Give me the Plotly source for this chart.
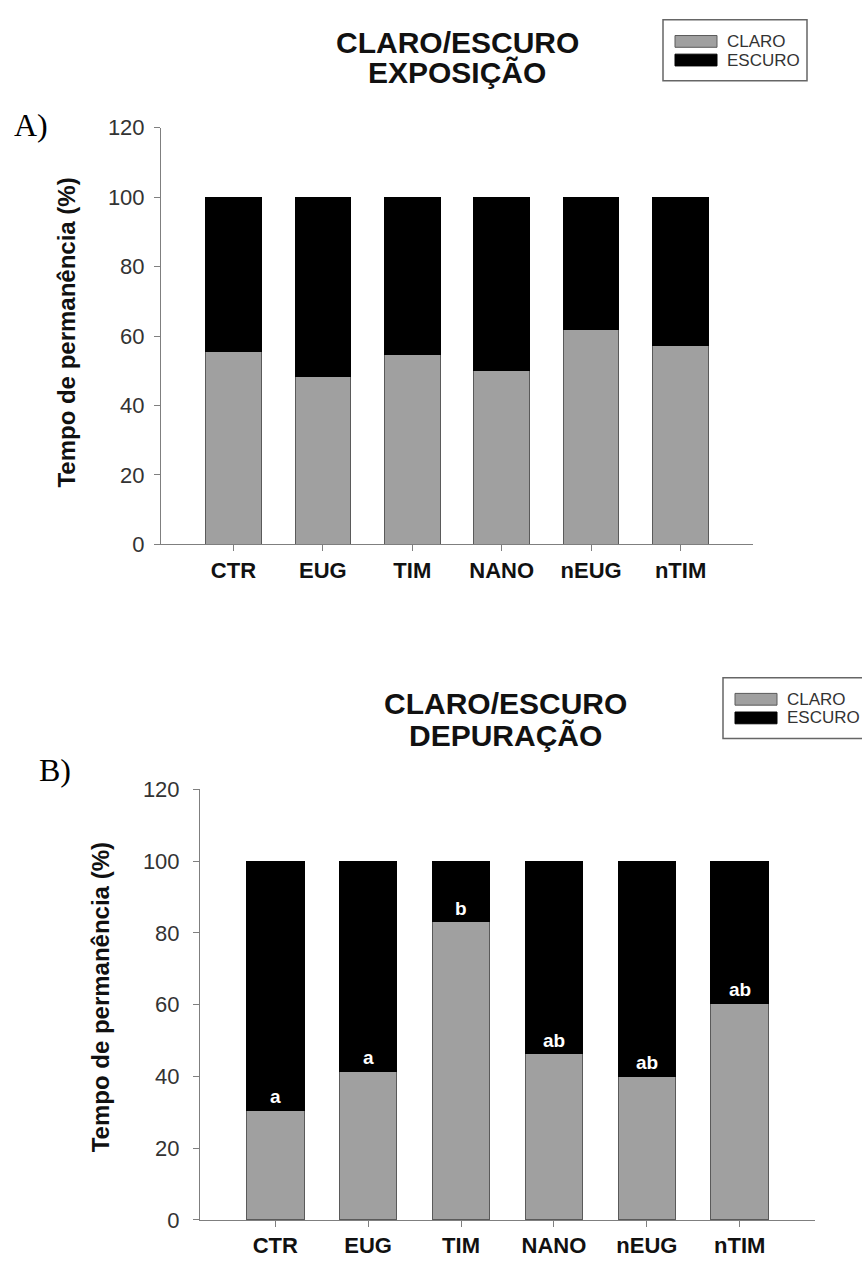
import plotly.graph_objects as go

# ---------------- data ----------------
categories = ["CTR", "EUG", "TIM", "NANO", "nEUG", "nTIM"]
series_names = ["CLARO", "ESCURO"]

claro_exposicao = [55.6, 48.2, 54.6, 50.2, 61.8, 57.3]
escuro_exposicao = [44.4, 51.8, 45.4, 49.8, 38.2, 42.7]

claro_depuracao = [30.6, 41.4, 83.1, 46.3, 40.0, 60.4]
escuro_depuracao = [69.4, 58.6, 16.9, 53.7, 60.0, 39.6]
letras_depuracao = ["a", "a", "b", "ab", "ab", "ab"]

titulo_a = ["CLARO/ESCURO", "EXPOSIÇÃO"]
titulo_b = ["CLARO/ESCURO", "DEPURAÇÃO"]
y_title = "Tempo de permanência (%)"
y_ticks = [0, 20, 40, 60, 80, 100, 120]

# ---------------- style ----------------
W, H = 862, 1277
GRAY = "#a0a0a0"
GRAY_LINE = "#5a5a5a"
AX = "#7f7f7f"
FONT = "Liberation Sans, Arial, sans-serif"


def px(x):
    return x / W


def py(y):
    return 1 - y / H


fig = go.Figure()

for cl, es, xa, ya in [(claro_exposicao, escuro_exposicao, "x", "y"),
                       (claro_depuracao, escuro_depuracao, "x2", "y2")]:
    fig.add_bar(x=categories, y=cl, name=series_names[0], xaxis=xa, yaxis=ya,
                marker=dict(color=GRAY, line=dict(color=GRAY_LINE, width=1)),
                showlegend=False)
    fig.add_bar(x=categories, y=es, name=series_names[1], xaxis=xa, yaxis=ya,
                marker=dict(color="#000000", line=dict(color="#000000", width=1)),
                showlegend=False)

xcommon = dict(type="category", range=[-0.81, 5.81], showline=True, linecolor=AX,
               linewidth=1, ticks="outside", ticklen=6, tickcolor=AX, showgrid=False,
               zeroline=False, tickfont=dict(family=FONT, size=22, color="#111", weight="bold"))
ycommon = dict(range=[0, 120], tickvals=y_ticks, showline=True, linecolor=AX, linewidth=1,
               ticks="outside", ticklen=6, tickcolor=AX, showgrid=False, zeroline=False,
               tickfont=dict(family=FONT, size=22, color="#333"))

fig.update_layout(
    width=W, height=H, margin=dict(l=0, r=0, t=0, b=0),
    paper_bgcolor="white", plot_bgcolor="white",
    barmode="stack", bargap=0.38,
    xaxis=dict(domain=[px(161), px(753)], anchor="y", **xcommon),
    yaxis=dict(domain=[py(543), py(118)], anchor="x", ticklabelstandoff=5, **ycommon),
    xaxis2=dict(domain=[px(200), px(815)], anchor="y2", **xcommon),
    yaxis2=dict(domain=[py(1232), py(793)], anchor="x2", ticklabelstandoff=9, **ycommon),
)

ann = []
# titles
for t, cx, y1, y2 in [(titulo_a, 457, 31, 62), (titulo_b, 505, 705, 738)]:
    for txt, yy in [(t[0], y1), (t[1], y2)]:
        ann.append(dict(text=txt, x=px(cx), y=py(yy), xref="paper", yref="paper",
                        showarrow=False, xanchor="center", yanchor="middle",
                        font=dict(family=FONT, size=30, color="#111", weight="bold")))
# panel letters
for txt, x, y in [("A)", 12, 115), ("B)", 37, 773)]:
    ann.append(dict(text=txt, x=px(x), y=py(y), xref="paper", yref="paper",
                    showarrow=False, xanchor="left", yanchor="middle",
                    font=dict(family="Liberation Serif, Times New Roman, serif", size=32, color="#000")))
# y-axis titles
for x, y in [(67, 327), (100, 1005)]:
    ann.append(dict(text=y_title, x=px(x), y=py(y), xref="paper", yref="paper",
                    showarrow=False, textangle=-90, xanchor="center", yanchor="middle",
                    font=dict(family=FONT, size=24, color="#111", weight="bold")))
# significance letters
for c, v, l in zip(categories, claro_depuracao, letras_depuracao):
    ann.append(dict(text=l, x=c, y=v, xref="x2", yref="y2", showarrow=False,
                    xanchor="center", yanchor="bottom", yshift=1,
                    font=dict(family=FONT, size=19, color="white", weight="bold")))

shapes = []
# manual legends (box, swatches, text)
for bx0, bx1, by0 in [(663, 807, 8), (723, 875, 679)]:
    shapes.append(dict(type="rect", xref="paper", yref="paper", x0=px(bx0), x1=px(bx1),
                       y0=py(by0), y1=py(by0 + 62), line=dict(color="#666", width=1.5),
                       fillcolor="white", layer="below"))
    sx0 = bx0 + 12
    for i, (col, lc) in enumerate([(GRAY, GRAY_LINE), ("#000", "#000")]):
        cy = by0 + 22 + 19 * i
        shapes.append(dict(type="rect", xref="paper", yref="paper", x0=px(sx0), x1=px(sx0 + 42),
                           y0=py(cy - 6), y1=py(cy + 6), fillcolor=col, line=dict(color=lc, width=1)))
        ann.append(dict(text=series_names[i], x=px(sx0 + 50), y=py(cy), xref="paper", yref="paper",
                        showarrow=False, xanchor="left", yanchor="middle",
                        font=dict(family=FONT, size=17, color="#333")))

fig.update_layout(annotations=ann, shapes=shapes)
fig.write_html(
    "out.html",
    config={"displayModeBar": False},
    post_script="document.body.style.margin='0px';document.body.style.padding='0px';"
                "document.body.style.overflow='hidden';",
)
